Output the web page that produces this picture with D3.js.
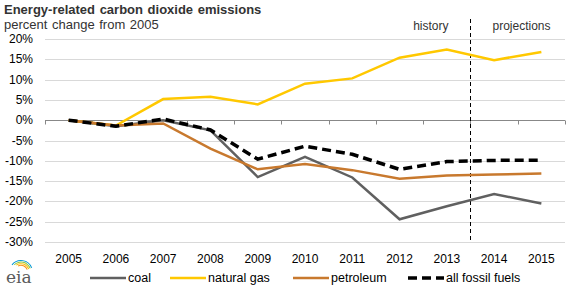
<!DOCTYPE html>
<html lang="en">
<head>
<meta charset="UTF-8">
<title>Energy-related carbon dioxide emissions</title>
<style>
  body { margin: 0; background: #fff; }
  svg { display: block; font-family: "Liberation Sans", Arial, sans-serif; }
</style>
</head>
<body>
<svg id="chart" width="577" height="289"></svg>
<script src="https://d3js.org/d3.v7.min.js"></script>
<script>
// data
const years = ["2005","2006","2007","2008","2009","2010","2011","2012","2013","2014","2015"];
const coal = [0, -1.5, 0, -2.5, -14, -9, -14.1, -24.4, -21.2, -18.2, -20.5];
const naturalGas = [0, -1.3, 5.2, 5.8, 3.9, 9.0, 10.3, 15.4, 17.4, 14.8, 16.8];
const petroleum = [0, -1.3, -0.8, -7.0, -12.1, -10.8, -12.3, -14.4, -13.6, -13.4, -13.1];
const fossil = [0, -1.5, 0.3, -2.4, -9.6, -6.4, -8.4, -12.1, -10.2, -9.9, -9.85];
const yTicks = [20, 15, 10, 5, 0, -5, -10, -15, -20, -25, -30];

const series = [
  { name: "coal", values: coal, color: "#606060", width: 2.5, dash: null },
  { name: "natural gas", values: naturalGas, color: "#ffc800", width: 2.5, dash: null },
  { name: "petroleum", values: petroleum, color: "#c8792e", width: 2.5, dash: null },
  { name: "all fossil fuels", values: fossil, color: "#000", width: 3.5, dash: "9,5" }
];

const svg = d3.select("#chart");
const plotLeft = 45, plotRight = 565, plotTop = 39, plotBottom = 242;

const x = d3.scaleBand().domain(years).range([plotLeft, plotRight]);
const y = d3.scaleLinear().domain([-30, 20]).range([plotBottom, plotTop]);

// title
svg.append("text").attr("x", 4).attr("y", 14)
  .attr("font-size", "13px").attr("font-weight", "bold").attr("fill", "#333")
  .attr("word-spacing", "1px")
  .text("Energy-related carbon dioxide emissions");
svg.append("text").attr("x", 4).attr("y", 29)
  .attr("font-size", "13px").attr("fill", "#333")
  .attr("word-spacing", "1px")
  .text("percent change from 2005");

// gridlines
svg.append("g").selectAll("line").data(yTicks.filter(d => d !== 0)).join("line")
  .attr("x1", plotLeft).attr("x2", plotRight)
  .attr("y1", d => Math.round(y(d)) + 0.5).attr("y2", d => Math.round(y(d)) + 0.5)
  .attr("stroke", "#d9d9d9").attr("stroke-width", 1);

// y labels
svg.append("g").selectAll("text").data(yTicks).join("text")
  .attr("x", 33).attr("y", d => y(d) + 4)
  .attr("text-anchor", "end").attr("font-size", "12px").attr("fill", "#000")
  .text(d => d + "%");

// zero axis with ticks between categories
const zeroY = Math.round(y(0)) + 0.5;
svg.append("line").attr("x1", plotLeft).attr("x2", plotRight)
  .attr("y1", zeroY).attr("y2", zeroY).attr("stroke", "#888");
const boundaries = years.map(d => x(d)).concat([plotRight]);
svg.append("g").selectAll("line").data(boundaries).join("line")
  .attr("x1", d => Math.round(d) + 0.5).attr("x2", d => Math.round(d) + 0.5)
  .attr("y1", zeroY).attr("y2", zeroY + 4).attr("stroke", "#888");

// x labels
svg.append("g").selectAll("text").data(years).join("text")
  .attr("x", d => x(d) + x.bandwidth() / 2).attr("y", 263)
  .attr("text-anchor", "middle").attr("font-size", "12px").attr("fill", "#000")
  .text(d => d);

// history / projections divider
const divX = Math.round(x("2014")) + 0.5;
svg.append("line").attr("x1", divX).attr("x2", divX)
  .attr("y1", 19).attr("y2", plotBottom)
  .attr("stroke", "#000").attr("stroke-width", 1).attr("stroke-dasharray", "4,3");
svg.append("text").attr("x", divX - 22).attr("y", 30)
  .attr("text-anchor", "end").attr("font-size", "12px").attr("fill", "#333").text("history");
svg.append("text").attr("x", divX + 22).attr("y", 30)
  .attr("text-anchor", "start").attr("font-size", "12px").attr("fill", "#333").text("projections");

// lines
const line = d3.line()
  .x((d, i) => x(years[i]) + x.bandwidth() / 2)
  .y(d => y(d));
svg.append("g").selectAll("path").data(series).join("path")
  .attr("d", d => line(d.values))
  .attr("fill", "none")
  .attr("stroke", d => d.color)
  .attr("stroke-width", d => d.width)
  .attr("stroke-dasharray", d => d.dash)
  .attr("stroke-linejoin", "miter");

// legend
const legendX = [90, 170, 293, 408];
const legend = svg.append("g").selectAll("g").data(series).join("g")
  .attr("transform", (d, i) => `translate(${legendX[i]},278)`);
legend.append("line").attr("x1", 0).attr("x2", 36).attr("y1", 0).attr("y2", 0)
  .attr("stroke", d => d.color).attr("stroke-width", d => d.width)
  .attr("stroke-dasharray", d => d.dash);
legend.append("text").attr("x", 38).attr("y", 4)
  .attr("font-size", "12.5px").attr("fill", "#000").text(d => d.name);

// eia logo
const logo = svg.append("g").attr("transform", "translate(5,268)");
const arcColors = ["#0096d6", "#8cc63f", "#ffc20e", "#f7941d"];
arcColors.forEach((c, i) => {
  logo.append("path")
    .attr("d", d3.arc()({ innerRadius: 11 - i * 1.6, outerRadius: 12 - i * 1.6, startAngle: -0.9 + i * 0.15, endAngle: 1.2 }))
    .attr("transform", "translate(16,4)")
    .attr("fill", c);
});
logo.append("text").attr("x", 1).attr("y", 15)
  .attr("font-family", "'DejaVu Serif', serif").attr("font-size", "17px").attr("fill", "#5a5a5a").text("eia");
</script>
</body>
</html>
